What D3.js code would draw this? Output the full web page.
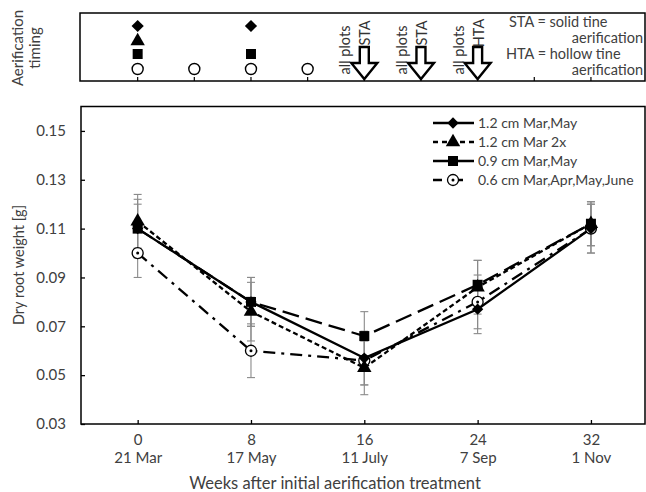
<!DOCTYPE html>
<html>
<head>
<meta charset="utf-8">
<script src="https://cdn.jsdelivr.net/npm/d3@7"></script>
<style>
  body { margin: 0; background: #fff; }
  text { font-family: Lato, "Open Sans", sans-serif; fill: #404040; }
</style>
</head>
<body>
<div id="viz"></div>
<script>
// data
const weeks = [0, 8, 16, 24, 32];
const dates = ["21 Mar", "17 May", "11 July", "7 Sep", "1 Nov"];
const yTicks = [0.03, 0.05, 0.07, 0.09, 0.11, 0.13, 0.15];
const seriesNames = ["1.2 cm Mar,May", "1.2 cm Mar 2x", "0.9 cm Mar,May", "0.6 cm Mar,Apr,May,June"];
const diamondVals = [0.110, 0.080, 0.057, 0.077, 0.110];
const diamondErr = [0.010, 0.010, 0.011, 0.010, 0.010];
const triangleVals = [0.113, 0.076, 0.053, 0.086, 0.112];
const triangleErr = [0.011, 0.012, 0.011, 0.011, 0.009];
const squareVals = [0.110, 0.080, 0.066, 0.087, 0.112];
const squareErr = [0.012, 0.010, 0.010, 0.010, 0.009];
const circleVals = [0.100, 0.060, 0.056, 0.080, 0.110];
const circleErr = [0.010, 0.011, 0.010, 0.011, 0.010];

// aerification timing panel
const topTicks = [0, 4, 8, 12, 16, 20, 24, 28, 32];
const diamondWeeks = [0, 8];
const triangleWeeks = [0];
const squareWeeks = [0, 8];
const circleWeeks = [0, 4, 8, 12];
const arrowWeeks = [16, 20, 24];
const arrowLabels = ["STA", "STA", "HTA"];

const W = 646, H = 492;
const svg = d3.select("#viz").append("svg").attr("width", W).attr("height", H);
svg.append("rect").attr("width", W).attr("height", H).attr("fill", "#fff");

const x = d3.scaleLinear().domain([-4, 36]).range([81, 647.6]);
const y = d3.scaleLinear().domain([0.03, 0.16]).range([424, 106.5]);

// ---------- top panel ----------
const tTop = 13, tBot = 81;
svg.append("rect").attr("x", 80).attr("y", tTop).attr("width", 565).attr("height", tBot - tTop)
  .attr("fill", "none").attr("stroke", "#000").attr("stroke-width", 1.5);

svg.append("g").selectAll("line").data(topTicks).join("line")
  .attr("x1", d => x(d)).attr("x2", d => x(d))
  .attr("y1", tBot).attr("y2", tBot - 4)
  .attr("stroke", "#000").attr("stroke-width", 1.2);

const diamondPath = d3.symbol(d3.symbolSquare, 75)();
const trianglePath = d3.symbol(d3.symbolTriangle, 90)();
const squarePath = d3.symbol(d3.symbolSquare, 100)();

svg.append("g").selectAll("path").data(diamondWeeks).join("path")
  .attr("d", diamondPath).attr("transform", d => `translate(${x(d)},26) rotate(45)`);
svg.append("g").selectAll("path").data(triangleWeeks).join("path")
  .attr("d", trianglePath).attr("transform", d => `translate(${x(d)},41)`);
svg.append("g").selectAll("path").data(squareWeeks).join("path")
  .attr("d", squarePath).attr("transform", d => `translate(${x(d)},54)`);
svg.append("g").selectAll("circle").data(circleWeeks).join("circle")
  .attr("cx", d => x(d)).attr("cy", 69).attr("r", 5.5)
  .attr("fill", "#fff").attr("stroke", "#000").attr("stroke-width", 1.4);

// hollow arrows
const arrow = svg.append("g").selectAll("g").data(arrowWeeks).join("g")
  .attr("transform", d => `translate(${x(d)},0)`);
arrow.append("path")
  .attr("d", "M-4.5,47 L4.5,47 L4.5,63 L13,63 L0,79 L-13,63 L-4.5,63 Z")
  .attr("fill", "#fff").attr("stroke", "#000").attr("stroke-width", 2.4)
  .attr("stroke-linejoin", "miter");
arrow.append("text")
  .attr("transform", "translate(-19,50) rotate(-90)")
  .attr("text-anchor", "middle").attr("dy", "0.35em")
  .style("font-size", "14.5px").style("fill", "#333")
  .text("all plots");
arrow.append("text")
  .attr("transform", "translate(1,33) rotate(-90)")
  .attr("text-anchor", "middle").attr("dy", "0.35em")
  .style("font-size", "14.5px").style("fill", "#333")
  .text((d, i) => arrowLabels[i]);

const note = svg.append("g").style("font-size", "14.5px");
note.append("text").attr("x", 509).attr("y", 27).text("STA = solid tine");
note.append("text").attr("x", 643).attr("y", 43).attr("text-anchor", "end").text("aerification");
note.append("text").attr("x", 506).attr("y", 59).text("HTA = hollow tine");
note.append("text").attr("x", 643).attr("y", 75).attr("text-anchor", "end").text("aerification");

svg.append("text").attr("transform", "translate(18,48) rotate(-90)")
  .attr("text-anchor", "middle").attr("dy", "0.35em").style("font-size", "15px")
  .text("Aerification");
svg.append("text").attr("transform", "translate(35,48) rotate(-90)")
  .attr("text-anchor", "middle").attr("dy", "0.35em").style("font-size", "15px")
  .text("timing");

// ---------- main plot ----------
svg.append("g").attr("transform", "translate(81,0)")
  .call(d3.axisLeft(y).tickValues(yTicks).tickSize(-4).tickPadding(15).tickFormat(d3.format(".2f")))
  .call(g => g.select(".domain").remove())
  .call(g => g.selectAll("line").attr("stroke-width", 1.3))
  .call(g => g.selectAll("text").style("font-size", "15px").style("font-family", "Lato").attr("fill", "#404040"));

const xAxis = svg.append("g").attr("transform", "translate(0,424)")
  .call(d3.axisBottom(x).tickValues(weeks).tickSize(-4).tickPadding(10))
  .call(g => g.select(".domain").remove())
  .call(g => g.selectAll("line").attr("stroke-width", 1.3))
  .call(g => g.selectAll("text").style("font-size", "15px").style("font-family", "Lato").attr("fill", "#404040"));
xAxis.selectAll(".tick text").each(function (d, i) {
  d3.select(this).append("tspan").attr("x", 0).attr("dy", "1.2em").text(dates[i]);
});

svg.append("rect").attr("x", 81).attr("y", 106.5).attr("width", 564).attr("height", 424 - 106.5)
  .attr("fill", "none").attr("stroke", "#000").attr("stroke-width", 1.5);

svg.append("text").attr("x", 335).attr("y", 489).attr("text-anchor", "middle")
  .style("font-size", "16.5px").text("Weeks after initial aerification treatment");
svg.append("text").attr("transform", "translate(19,265) rotate(-90)")
  .attr("text-anchor", "middle").attr("dy", "0.35em").style("font-size", "14.5px")
  .text("Dry root weight [g]");

const series = [
  { name: seriesNames[0], vals: diamondVals, err: diamondErr, dash: null, mark: "diamond" },
  { name: seriesNames[1], vals: triangleVals, err: triangleErr, dash: "5,3", mark: "triangle" },
  { name: seriesNames[2], vals: squareVals, err: squareErr, dash: "17,7", mark: "square" },
  { name: seriesNames[3], vals: circleVals, err: circleErr, dash: "12,6,3,6", mark: "circle" }
];

// error bars
series.forEach(s => {
  const g = svg.append("g").attr("stroke", "#8a8a8a").attr("stroke-width", 1.1);
  weeks.forEach((w, i) => {
    const cx = x(w), hi = y(s.vals[i] + s.err[i]), lo = y(s.vals[i] - s.err[i]);
    g.append("line").attr("x1", cx).attr("x2", cx).attr("y1", hi).attr("y2", lo);
    g.append("line").attr("x1", cx - 4).attr("x2", cx + 4).attr("y1", hi).attr("y2", hi);
    g.append("line").attr("x1", cx - 4).attr("x2", cx + 4).attr("y1", lo).attr("y2", lo);
  });
});

const line = d3.line().x((d, i) => x(weeks[i])).y(d => y(d));
series.forEach(s => {
  svg.append("path").datum(s.vals).attr("d", line)
    .attr("fill", "none").attr("stroke", "#000").attr("stroke-width", 2.3)
    .attr("stroke-dasharray", s.dash);
});

const diamondMark = d3.symbol(d3.symbolSquare, 64)();
const triangleMark = d3.symbol(d3.symbolTriangle, 90)();
const squareMark = d3.symbol(d3.symbolSquare, 100)();

function drawMarker(g, type, cx, cy) {
  if (type === "diamond") {
    g.append("path").attr("d", diamondMark).attr("transform", `translate(${cx},${cy}) rotate(45)`);
  } else if (type === "triangle") {
    g.append("path").attr("d", triangleMark).attr("transform", `translate(${cx},${cy})`);
  } else if (type === "square") {
    g.append("path").attr("d", squareMark).attr("transform", `translate(${cx},${cy})`);
  } else {
    g.append("circle").attr("cx", cx).attr("cy", cy).attr("r", 5.5)
      .attr("fill", "#fff").attr("stroke", "#000").attr("stroke-width", 1.3);
    g.append("circle").attr("cx", cx).attr("cy", cy).attr("r", 1.5).attr("fill", "#000");
  }
}

const marks = svg.append("g");
[3, 0, 1, 2].forEach(k => {
  const s = series[k];
  weeks.forEach((w, i) => drawMarker(marks, s.mark, x(w), y(s.vals[i])));
});

// legend
const rowsY = [123, 142, 161, 180];
const legendDash = [null, "5,4", "17,7", "9,12"];
const legend = svg.append("g");
series.forEach((s, i) => {
  legend.append("line").attr("x1", 433).attr("x2", 474).attr("y1", rowsY[i]).attr("y2", rowsY[i])
    .attr("stroke", "#000").attr("stroke-width", 2.3).attr("stroke-dasharray", legendDash[i]);
  drawMarker(legend, s.mark, 453, rowsY[i]);
  legend.append("text").attr("x", 478).attr("y", rowsY[i]).attr("dy", "0.35em")
    .style("font-size", "14px").text(s.name);
});
</script>
</body>
</html>
